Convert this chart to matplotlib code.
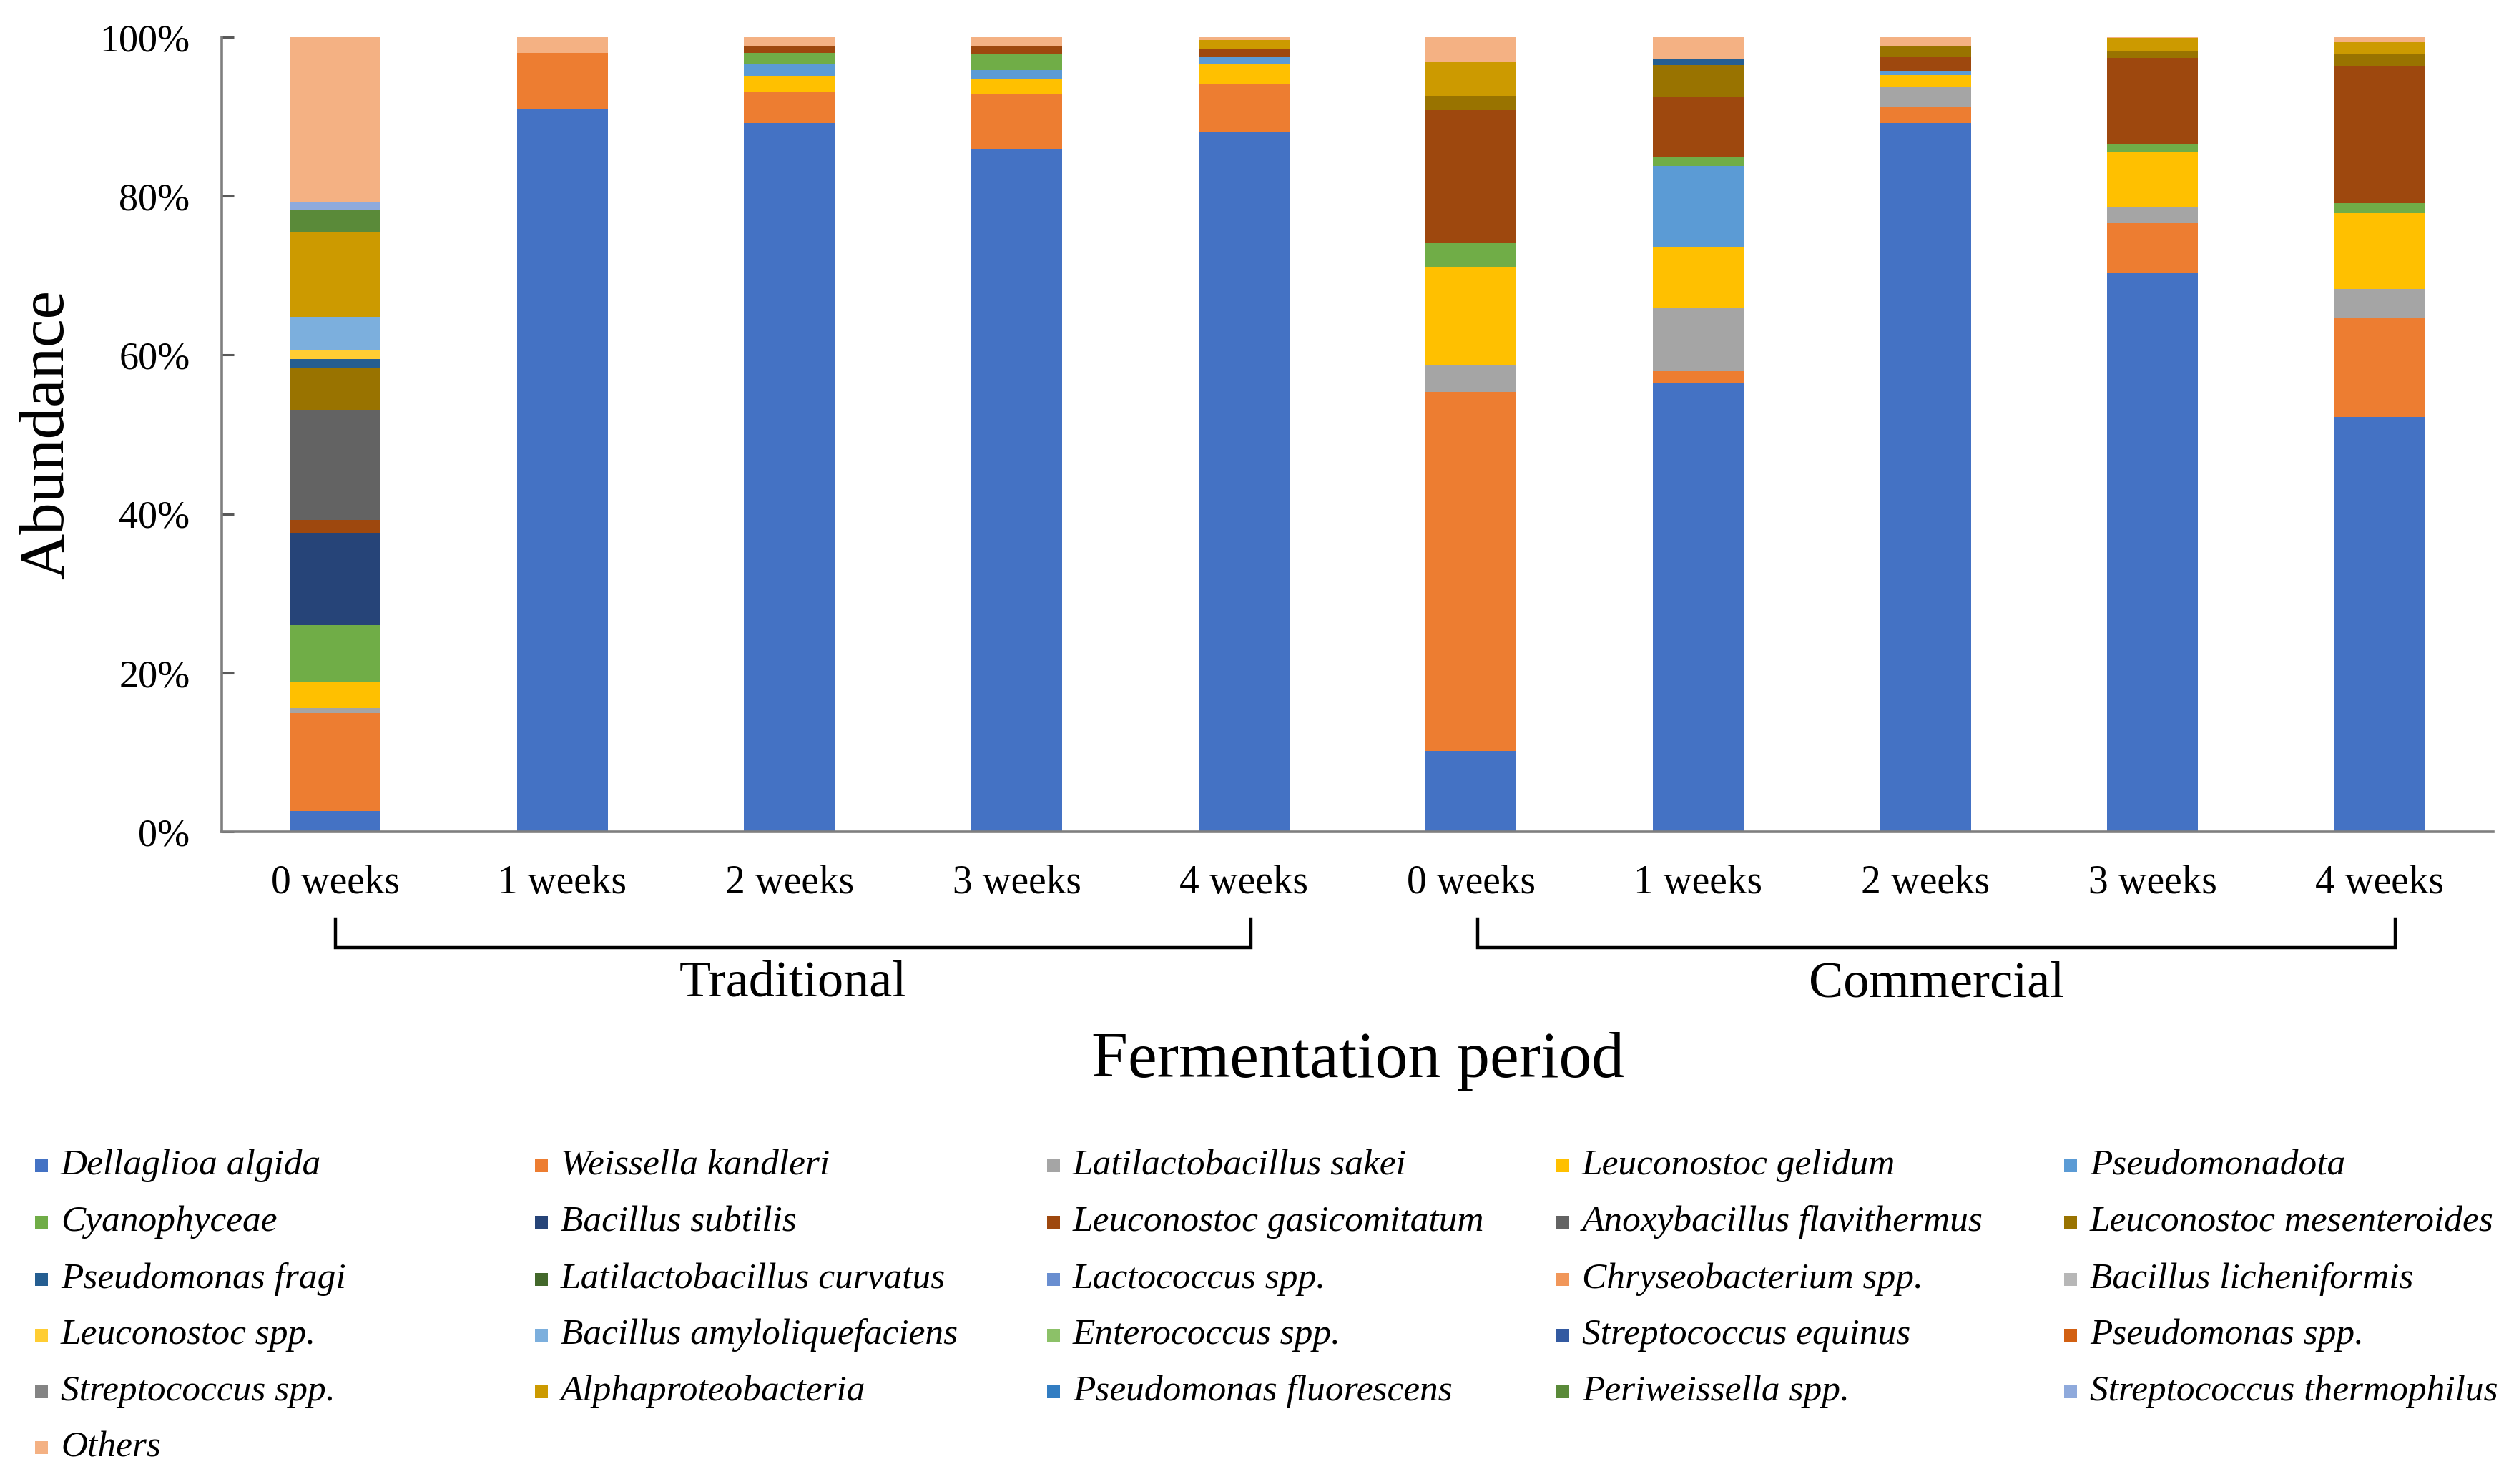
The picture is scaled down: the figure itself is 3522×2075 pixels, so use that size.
import numpy as np
import matplotlib
matplotlib.use("Agg")
import matplotlib.pyplot as plt
from matplotlib.patches import Rectangle
from matplotlib.transforms import blended_transform_factory

plt.rcParams['font.family'] = ['Liberation Serif', 'DejaVu Serif']

# bars: Traditional 0-4 weeks, then Commercial 0-4 weeks
weeks = ["0 weeks", "1 weeks", "2 weeks", "3 weeks", "4 weeks",
         "0 weeks", "1 weeks", "2 weeks", "3 weeks", "4 weeks"]
groups = ["Traditional", "Commercial"]

species = [
    "Dellaglioa algida", "Weissella kandleri", "Latilactobacillus sakei",
    "Leuconostoc gelidum", "Pseudomonadota", "Cyanophyceae",
    "Bacillus subtilis", "Leuconostoc gasicomitatum", "Anoxybacillus flavithermus",
    "Leuconostoc mesenteroides", "Pseudomonas fragi", "Latilactobacillus curvatus",
    "Lactococcus spp.", "Chryseobacterium spp.", "Bacillus licheniformis",
    "Leuconostoc spp.", "Bacillus amyloliquefaciens", "Enterococcus spp.",
    "Streptococcus equinus", "Pseudomonas spp.", "Streptococcus spp.",
    "Alphaproteobacteria", "Pseudomonas fluorescens", "Periweissella spp.",
    "Streptococcus thermophilus", "Others",
]

colors = [
    "#4472C4", "#ED7D31", "#A5A5A5", "#FFC000", "#5B9BD5", "#70AD47",
    "#264478", "#9E480E", "#636363", "#997300", "#255E91", "#43682B",
    "#698ED0", "#F1975A", "#B7B7B7", "#FFCD33", "#7CAFDD", "#8CC168",
    "#335AA1", "#D26012", "#848484", "#CC9A00", "#327DC2", "#5A8A39",
    "#8FAADC", "#F4B183",
]

# relative abundance (%) per species, one value per bar
dellaglioa = [2.6, 90.9, 89.2, 86.0, 88.0, 10.2, 56.5, 89.2, 70.3, 52.2]
weissella = [12.3, 7.1, 4.0, 6.8, 6.1, 45.2, 1.5, 2.1, 6.3, 12.5]
lat_sakei = [0.7, 0, 0, 0, 0, 3.3, 7.9, 2.5, 2.1, 3.6]
leu_gelidum = [3.2, 0, 1.9, 1.9, 2.6, 12.3, 7.6, 1.4, 6.8, 9.6]
pseudomonadota = [0, 0, 1.6, 1.2, 0.8, 0, 10.3, 0.6, 0, 0]
cyanophyceae = [7.2, 0, 1.3, 2.0, 0, 3.1, 1.2, 0, 1.1, 1.2]
bac_subtilis = [11.6, 0, 0, 0, 0, 0, 0, 0, 0, 0]
leu_gasicomitatum = [1.6, 0, 0.9, 1.0, 1.1, 16.7, 7.4, 1.7, 10.8, 17.3]
anoxybacillus = [13.9, 0, 0, 0, 0, 0, 0, 0, 0, 0]
leu_mesenteroides = [5.2, 0, 0, 0, 0, 1.8, 4.1, 1.3, 0.9, 1.5]
pse_fragi = [1.2, 0, 0, 0, 0, 0, 0.8, 0, 0, 0]
lat_curvatus = [0, 0, 0, 0, 0, 0, 0, 0, 0, 0]
lactococcus = [0, 0, 0, 0, 0, 0, 0, 0, 0, 0]
chryseobacterium = [0, 0, 0, 0, 0, 0, 0, 0, 0, 0]
bac_licheniformis = [0, 0, 0, 0, 0, 0, 0, 0, 0, 0]
leu_spp = [1.2, 0, 0, 0, 0, 0, 0, 0, 0, 0]
bac_amylo = [4.1, 0, 0, 0, 0, 0, 0, 0, 0, 0]
enterococcus = [0, 0, 0, 0, 0, 0, 0, 0, 0, 0]
str_equinus = [0, 0, 0, 0, 0, 0, 0, 0, 0, 0]
pse_spp = [0, 0, 0, 0, 0, 0, 0, 0, 0, 0]
str_spp = [0, 0, 0, 0, 0, 0, 0, 0, 0, 0]
alphaproteobacteria = [10.6, 0, 0, 0, 1.0, 4.3, 0, 0, 1.6, 1.5]
pse_fluorescens = [0, 0, 0, 0, 0, 0, 0, 0, 0, 0]
periweissella = [2.8, 0, 0, 0, 0, 0, 0, 0, 0, 0]
str_thermophilus = [1.0, 0, 0, 0, 0, 0, 0, 0, 0, 0]
others = [20.9, 2.0, 1.1, 1.1, 0.4, 3.1, 2.8, 1.2, 0.2, 0.6]

abundance = [
    dellaglioa, weissella, lat_sakei, leu_gelidum, pseudomonadota, cyanophyceae,
    bac_subtilis, leu_gasicomitatum, anoxybacillus, leu_mesenteroides, pse_fragi,
    lat_curvatus, lactococcus, chryseobacterium, bac_licheniformis, leu_spp,
    bac_amylo, enterococcus, str_equinus, pse_spp, str_spp, alphaproteobacteria,
    pse_fluorescens, periweissella, str_thermophilus, others,
]

W, H = 3522, 2075
fig = plt.figure(figsize=(W / 200, H / 200), dpi=200)
fig.patch.set_facecolor("white")

# axes box in pixels: left 310, right 3486, top 52, bottom 1163
ax = fig.add_axes([310 / W, 1 - 1163 / H, (3486 - 310) / W, (1163 - 52) / H])
ax_h = 1163 - 52

x = np.arange(len(weeks))
bottom = np.zeros(len(weeks))
for name, col, vals in zip(species, colors, abundance):
    vals = np.array(vals, dtype=float)
    ax.bar(x, vals, width=0.4, bottom=bottom, color=col, label=name, linewidth=0)
    bottom += vals

ax.set_xlim(-0.5, len(weeks) - 0.5)
ax.set_ylim(0, 100)
ax.set_yticks(np.arange(0, 101, 20))
ax.set_yticklabels([f"{v}%" for v in range(0, 101, 20)], fontsize=19.5)
ax.set_xticks(x)
ax.set_xticklabels(weeks, fontsize=20)
ax.tick_params(axis="x", length=0, pad=16.5)
ax.tick_params(axis="y", direction="in", length=6, width=1.1, color="#595959", pad=16)

for side in ["top", "right"]:
    ax.spines[side].set_visible(False)
for side in ["left", "bottom"]:
    ax.spines[side].set_color("#7f7f7f")
    ax.spines[side].set_linewidth(1.3)

ylab = ax.set_ylabel("Abundance", fontsize=32)
ylab.set_verticalalignment("center")
ax.yaxis.set_label_coords((67 - 310) / (3486 - 310), 0.5)

# group brackets under the tick labels
trans = blended_transform_factory(ax.transData, ax.transAxes)
y_top = -(1285 - 1163) / ax_h
y_bot = -(1325 - 1163) / ax_h
y_grp = -(1376 - 1163) / ax_h
bracket_x = [(0.0, 4.03), (5.03, 9.07)]
for name, (x0, x1) in zip(groups, bracket_x):
    ax.plot([x0, x0, x1, x1], [y_top, y_bot, y_bot, y_top], color="black",
            lw=1.6, transform=trans, clip_on=False, solid_joinstyle="miter")
    ax.text((x0 + x1) / 2, y_grp, name, transform=trans, ha="center",
            va="center", fontsize=26)

fig.text(0.5 * (310 + 3486) / W, 1 - 1484 / H, "Fermentation period",
         ha="center", va="center", fontsize=33)

# legend, 5 columns laid out row by row
col_x = [49, 748, 1464, 2176, 2886]
row_y = [1630, 1709, 1789, 1867, 1946, 2024]
sq = 18
for i, (name, col) in enumerate(zip(species, colors)):
    r, c = divmod(i, 5)
    px, py = col_x[c], row_y[r]
    fig.add_artist(Rectangle((px / W, 1 - (py + sq / 2) / H), sq / W, sq / H,
                             transform=fig.transFigure, facecolor=col,
                             edgecolor="none"))
    fig.text((px + 36) / W, 1 - py / H, name, ha="left", va="center",
             fontsize=18.5, style="italic")

fig.savefig("out.png", dpi=200, facecolor="white")
